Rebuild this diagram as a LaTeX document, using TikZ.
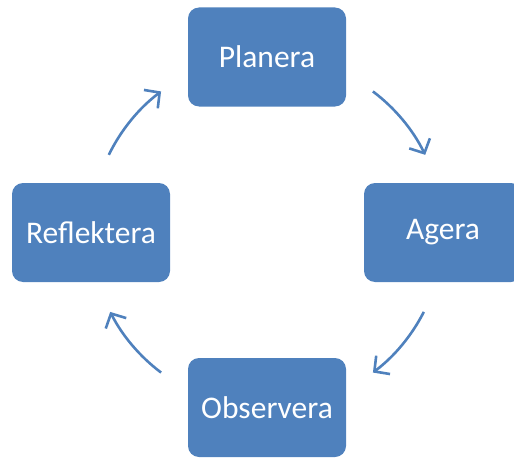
\documentclass[tikz,border=0pt]{standalone}
\usepackage{fontspec}
\setmainfont{Carlito}
\usetikzlibrary{positioning, arrows.meta}
\definecolor{boxblue}{RGB}{79,129,189}

\begin{document}
\begin{tikzpicture}[x=1pt, y=1pt, every node/.style={minimum width=158pt, minimum height=99pt, align=center}]
			\useasboundingbox (0,0) rectangle (514,459);
			\clip (0,0) rectangle (514,459);
			\tikzset{stage/.style={fill=boxblue, rounded corners=11pt, text=white, font=\fontsize{31.5}{38}\selectfont}}
			\tikzset{cycle/.style={draw=boxblue, line width=2.6pt, -{Straight Barb[length=11pt, width=23pt, line width=2.6pt]}}}
			% Stages
			\node[stage] (planera) at (267,402) {Planera};
			\node[stage] (agera) at (443,226.5) {Agera};
			\node[stage] (observera) at (267,51.5) {Observera};
			\node[stage] (reflektera) at (91,226.5) {Reflektera};
			% Centre of the cycle
			\coordinate (mid) at (267,227);
			% Arrows
			\draw[cycle] ([shift={(53:176)}]mid) arc[start angle=53, end angle=26, radius=176];
			\draw[cycle] ([shift={(-27:176)}]mid) arc[start angle=-27, end angle=-53, radius=176];
			\draw[cycle] ([shift={(233:176)}]mid) arc[start angle=233, end angle=207, radius=176];
			\draw[cycle] ([shift={(154:176)}]mid) arc[start angle=154, end angle=127, radius=176];
		\end{tikzpicture}
\end{document}
